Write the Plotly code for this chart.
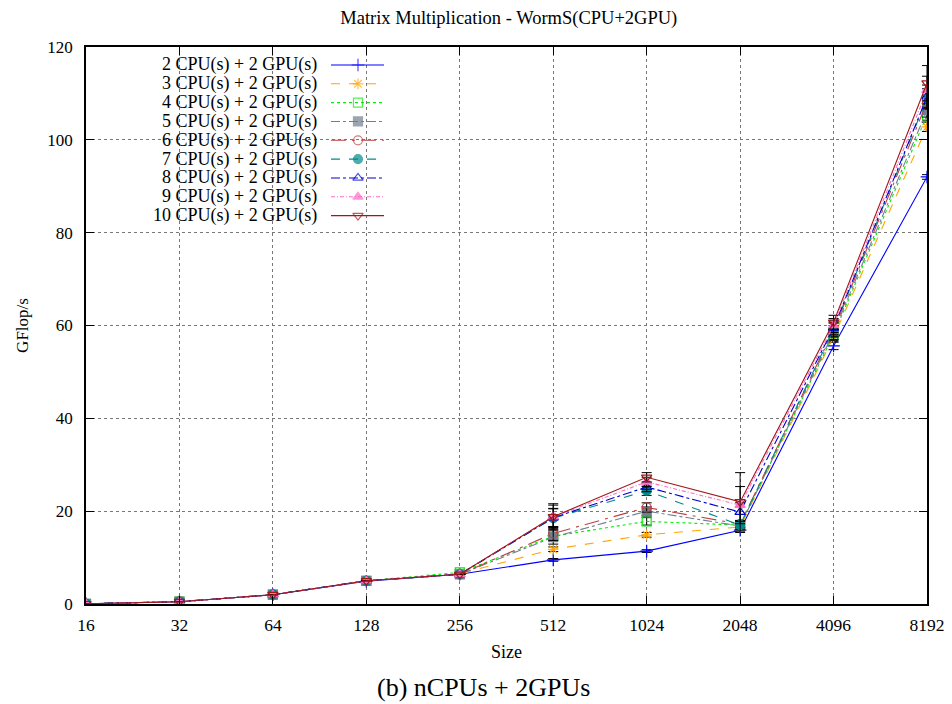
import plotly.graph_objects as go

sizes = ["16", "32", "64", "128", "256", "512", "1024", "2048", "4096", "8192"]
series_names = [f"{n} CPU(s) + 2 GPU(s)" for n in range(2, 11)]

s2 = [0.05, 0.5, 2.0, 4.9, 6.4, 9.5, 11.4, 15.9, 55.6, 92.0]
s3 = [0.05, 0.5, 2.0, 5.0, 6.5, 11.8, 14.9, 16.6, 57.5, 102.8]
s4 = [0.05, 0.5, 2.0, 5.0, 6.8, 14.6, 17.8, 17.0, 58.0, 105.3]
s5 = [0.05, 0.5, 2.0, 5.0, 6.4, 14.4, 20.0, 16.8, 58.5, 106.4]
s6 = [0.05, 0.5, 2.0, 5.0, 6.4, 15.2, 20.8, 17.2, 59.0, 108.1]
s7 = [0.05, 0.5, 2.0, 5.0, 6.4, 18.5, 24.4, 17.0, 59.2, 109.0]
s8 = [0.05, 0.5, 2.0, 5.0, 6.4, 18.6, 25.2, 19.8, 59.5, 109.3]
s9 = [0.05, 0.5, 2.0, 5.0, 6.4, 18.8, 26.3, 21.3, 60.0, 110.7]
s10 = [0.05, 0.5, 2.0, 5.0, 6.4, 18.8, 27.3, 22.0, 60.7, 112.2]
values = [s2, s3, s4, s5, s6, s7, s8, s9, s10]

e2 = [0, 0, 0, 0, 0, 0.3, 0.3, 0.5, 0.8, 0.5]
e3 = [0, 0, 0, 0, 0, 0.5, 0.5, 0.6, 1.0, 1.0]
e4 = [0, 0, 0, 0, 0, 0.5, 0.8, 0.6, 1.2, 1.2]
e5 = [0, 0, 0, 0, 0, 1.5, 1.0, 0.8, 1.5, 1.5]
e6 = [0, 0, 0, 0, 0, 1.5, 1.0, 0.8, 1.5, 1.5]
e7 = [0, 0, 0, 0, 0, 2.0, 1.0, 1.0, 1.5, 2.0]
e8 = [0, 0, 0, 0, 0, 2.0, 1.0, 2.0, 1.5, 2.5]
e9 = [0, 0, 0, 0, 0, 2.5, 1.0, 4.0, 1.5, 3.0]
e10 = [0, 0, 0, 0, 0, 2.8, 1.0, 6.3, 1.5, 3.8]
errors = [e2, e3, e4, e5, e6, e7, e8, e9, e10]

colors = ["#0000ff", "#ffa500", "#00ee00", "#708090", "#c04040",
          "#008b8b", "#0000cd", "#ff6ec7", "#a01818"]
dashes = ["solid", "dash", "dot", "dashdot", "longdashdot",
          "dash", "dashdot", "4px,2px,1px,2px", "solid"]
symbols = ["cross-thin-open", "asterisk-open", "square-open", "square",
           "circle-open", "circle", "triangle-up-open", "triangle-up",
           "triangle-down-open"]

SERIF = "Liberation Serif"

fig = go.Figure()
for name, ys, es, c, d, s in zip(series_names, values, errors, colors, dashes, symbols):
    fig.add_trace(go.Scatter(
        x=sizes, y=ys, name=name, mode="lines+markers",
        line=dict(color=c, width=1.1, dash=d),
        marker=dict(symbol=s, size=9, color=c, line=dict(color=c, width=1.2)),
        error_y=dict(type="data", array=es, visible=True, color="black",
                     thickness=1, width=5),
        showlegend=False,
    ))

# custom legend (text right-aligned, key to the right) on hidden overlay axes
leg_top = 0.9677
leg_step = 0.0338
for i, (name, c, d, s) in enumerate(zip(series_names, colors, dashes, symbols)):
    yy = leg_top - i * leg_step
    fig.add_annotation(x=0.2771, y=yy, xref="paper", yref="paper", text=name,
                       showarrow=False, xanchor="right", yanchor="middle",
                       font=dict(family=SERIF, size=18, color="black"))
    fig.add_trace(go.Scatter(
        x=[0.2913, 0.3234, 0.3543], y=[yy, yy, yy], xaxis="x2", yaxis="y2",
        mode="lines+markers", showlegend=False, hoverinfo="skip",
        line=dict(color=c, width=1.1, dash=d),
        marker=dict(symbol=s, size=[0, 9, 0], color=c, line=dict(color=c, width=1.2)),
    ))

# page body has an 8px margin: figure occupies page x 8..944, y 8..704
fig.update_layout(
    width=936, height=696,
    margin=dict(l=78, r=17, t=39, b=100),
    paper_bgcolor="white", plot_bgcolor="white",
    font=dict(family=SERIF, size=17, color="black"),
    title=dict(text="Matrix Multiplication - WormS(CPU+2GPU)", x=0.535, xanchor="center",
               y=1 - 10 / 696, yanchor="middle", font=dict(family=SERIF, size=18.5)),
    xaxis=dict(type="category", range=[0, 9], showline=True, linecolor="black", linewidth=1.5,
               mirror="ticks", ticks="inside", ticklen=8, tickcolor="black",
               showgrid=True, gridcolor="#777777", griddash="dot", gridwidth=1,
               zeroline=False, ticklabelstandoff=4, automargin=False,
               title=dict(text="Size", font=dict(size=18), standoff=12),
               tickfont=dict(size=17.5)),
    yaxis=dict(range=[0, 120], dtick=20, showline=True, linecolor="black", linewidth=1.5,
               mirror="ticks", ticks="inside", ticklen=8, tickcolor="black",
               showgrid=True, gridcolor="#777777", griddash="dot", gridwidth=1,
               zeroline=False, ticklabelstandoff=8, automargin=False,
               title=dict(text="GFlop/s", font=dict(size=17), standoff=14),
               tickfont=dict(size=17)),
    xaxis2=dict(overlaying="x", range=[0, 1], visible=False),
    yaxis2=dict(overlaying="y", range=[0, 1], visible=False),
)

fig.add_annotation(x=0.4732, y=-0.1508, xref="paper", yref="paper", yanchor="middle",
                   text="(b) nCPUs + 2GPUs", showarrow=False,
                   font=dict(family=SERIF, size=26, color="black"))

fig.write_html("out.html")
